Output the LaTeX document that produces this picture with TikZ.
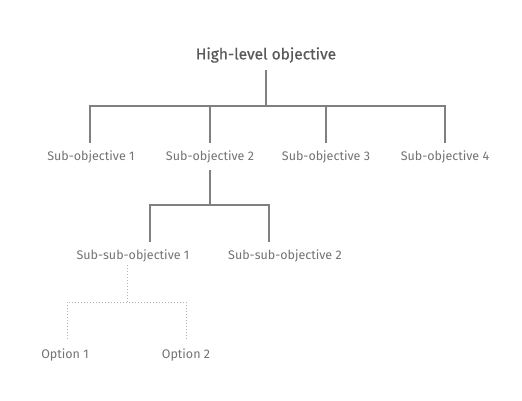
\documentclass[tikz,border=0pt]{standalone}
\usepackage{fontspec}
\setmainfont{Fira Sans}
\begin{document}
\begin{tikzpicture}[x=1pt,y=-1pt,
  lbl/.style={text=black!55, font=\fontsize{12.5}{14}\selectfont, inner sep=0pt, anchor=center},
  toplbl/.style={text=black!65, font=\fontsize{15.5}{18}\selectfont\addfontfeatures{FakeBold=0.5}, inner sep=0pt},
  solidln/.style={draw=black!50, line width=1.8pt},
  dotln/.style={draw=black!30, line width=1pt, dotted}]
\useasboundingbox (0,0) rectangle (522,400);
\fill[white] (0,0) rectangle (522,400);
\node[toplbl] (top) at (266,55) {High-level objective};
\node[lbl] (s1) at (91,157) {Sub-objective 1};
\node[lbl] (s2) at (210,157) {Sub-objective 2};
\node[lbl] (s3) at (326,157) {Sub-objective 3};
\node[lbl] (s4) at (445,157) {Sub-objective 4};
\node[lbl] (ss1) at (133,256) {Sub-sub-objective 1};
\node[lbl] (ss2) at (285,256) {Sub-sub-objective 2};
\node[lbl] (o1) at (65,355) {Option 1};
\node[lbl] (o2) at (186,355) {Option 2};
\coordinate (j1) at (266,106);
\coordinate (j2) at (210,205);
\coordinate (j3) at (127,302);
\draw[solidln] (266,70) -- (j1);
\draw[solidln] (90,143) |- (j1) -| (445,143);
\draw[solidln] (j1 -| s2) -- (210,143);
\draw[solidln] (j1 -| s3) -- (326,143);
\draw[solidln] (210,170) -- (j2);
\draw[solidln] (150,242) |- (j2) -| (269,242);
\draw[dotln] (127,265) -- (j3);
\draw[dotln] (67,339) |- (j3) -| (186,339);
\end{tikzpicture}
\end{document}
